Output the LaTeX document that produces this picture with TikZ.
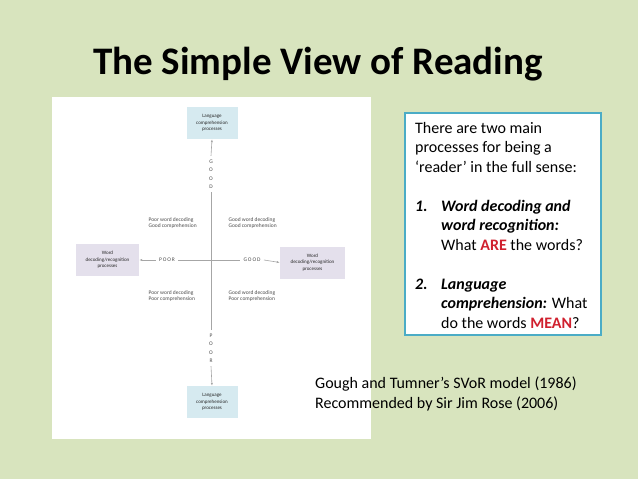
\documentclass[tikz,border=0pt]{standalone}
\usepackage{fontspec}
\setmainfont{Carlito}
\usetikzlibrary{arrows.meta}
\definecolor{slidebg}{HTML}{D8E4BE}
\definecolor{boxblue}{HTML}{D6EAF0}
\definecolor{boxlilac}{HTML}{E4E0EC}
\definecolor{tealframe}{HTML}{4BACC6}
\definecolor{hotred}{HTML}{D0202E}
\tikzset{
  procbox/.style={fill=#1, minimum width=51pt, minimum height=32pt, align=center, font=\fontsize{5}{6.5}\selectfont, text=gray!30!black},
  tiny/.style={font=\fontsize{5.5}{6.5}\selectfont, text=gray!60!black, align=left},
  axis/.style={gray!70, line width=0.6pt},
  line/.style={anchor=base west, font=\fontsize{16}{19}\selectfont, inner sep=0pt}
}
\begin{document}
\begin{tikzpicture}[x=1pt,y=-1pt]
	% slide
	\fill[slidebg] (0,0) rectangle (638,479);
	\useasboundingbox (0,0) rectangle (638,479);
	\node[anchor=base west, font=\fontsize{39}{44}\selectfont\bfseries, inner sep=0pt] (title) at (93,74) {The Simple View of Reading};
	% diagram panel
	\fill[white] (52,97) rectangle (371,439);
		% boxes
		\node[procbox=boxblue] (lcTop) at (212,123) {Language\\comprehension\\processes};
		\node[procbox=boxblue] (lcBot) at (212,402) {Language\\comprehension\\processes};
		\node[procbox=boxlilac, minimum width=63pt] (wdLeft) at (107.5,260) {Word\\decoding/recognition\\processes};
		\node[procbox=boxlilac, minimum width=65pt] (wdRight) at (312.5,262.5) {Word\\decoding/recognition\\processes};
		% axis labels
		\node[tiny, align=center, font=\fontsize{5.5}{8.5}\selectfont] (goodV) at (211,174) {G\\O\\O\\D};
		\node[tiny, align=center, font=\fontsize{5.5}{8.5}\selectfont] (poorV) at (211,348) {P\\O\\O\\R};
		\node[tiny] (poorH) at (167,260) {P\,O\,O\,R};
		\node[tiny] (goodH) at (252,260) {G\,O\,O\,D};
		% axes
		\draw[axis] (goodV.south) -- (poorV.north);
		\draw[axis] (poorH.east) -- (goodH.west);
		\draw[axis, -{Latex[length=3pt]}] (goodV.north) -- (lcTop.south);
		\draw[axis, -{Latex[length=3pt]}] (poorV.south) -- (lcBot.north);
		\draw[axis, -{Latex[length=3pt]}] (poorH.west) -- (wdLeft.east);
		\draw[axis, -{Latex[length=3pt]}] (goodH.east) -- (wdRight.west);
		% quadrants
		\node[tiny, anchor=west] (qTL) at (145,223) {Poor word decoding\\Good comprehension};
		\node[tiny, anchor=west] (qTR) at (225,223) {Good word decoding\\Good comprehension};
		\node[tiny, anchor=west] (qBL) at (145,296) {Poor word decoding\\Poor comprehension};
		\node[tiny, anchor=west] (qBR) at (225,296) {Good word decoding\\Poor comprehension};
	% text box
	\draw[tealframe, line width=1.2pt, fill=white] (405,113) rectangle (601,335);
		\node[line] (t1) at (415,133) {There are two main};
		\node[line] (t2) at (415,152.5) {processes for being a};
		\node[line] (t3) at (415,172) {‘reader’ in the full sense:};
		\node[line, font=\fontsize{16}{19}\selectfont\bfseries\itshape] (n1) at (415,211) {1.};
		\node[line, font=\fontsize{16}{19}\selectfont\bfseries\itshape] (t4) at (441,211) {Word decoding and};
		\node[line, font=\fontsize{16}{19}\selectfont\bfseries\itshape] (t5) at (441,230.5) {word recognition:};
		\node[line] (t6) at (441,250) {What \textbf{\color{hotred}ARE} the words?};
		\node[line, font=\fontsize{16}{19}\selectfont\bfseries\itshape] (n2) at (415,289) {2.};
		\node[line, font=\fontsize{16}{19}\selectfont\bfseries\itshape] (t7) at (441,289) {Language};
		\node[line] (t8) at (441,308.5) {\textbf{\itshape comprehension:} What};
		\node[line] (t9) at (441,328) {do the words \textbf{\color{hotred}MEAN}?};
	% source
	\node[line] (src1) at (315,388) {Gough and Tumner’s SVoR model (1986)};
	\node[line] (src2) at (315,408) {Recommended by Sir Jim Rose (2006)};
\end{tikzpicture}
\end{document}
